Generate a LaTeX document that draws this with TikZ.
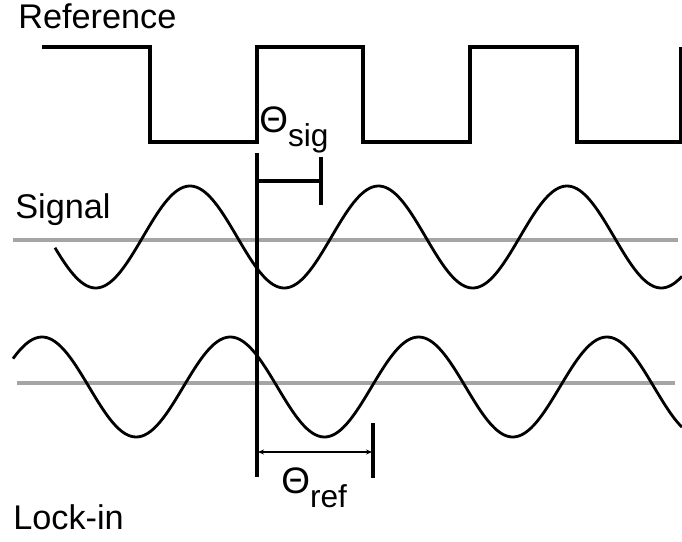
\documentclass[tikz,border=0pt]{standalone}
\usepackage{fontspec}
\setmainfont{Liberation Sans}
\usepackage{xcolor}
\usepackage{tikz}
\usetikzlibrary{arrows.meta,positioning}
\definecolor{axisgray}{RGB}{165,165,165}

\begin{document}
\begin{tikzpicture}[
  x=0.02cm,y=-0.02cm,
  lbl/.style={anchor=base west,inner sep=0pt,font=\fontsize{19.5}{21}\selectfont},
  theta/.style={anchor=base west,inner sep=0pt,font=\fontsize{21}{22}\selectfont},
  square/.style={line width=2.6pt},
  wave/.style={line width=1.6pt,smooth,samples=240},
  axis/.style={line width=2.8pt,axisgray},
  marker/.style={line width=2.2pt},
  span/.style={{Stealth[length=1.2mm,width=1mm]}-{Stealth[length=1.2mm,width=1mm]},line width=0.6pt}
]
\useasboundingbox (0,0) rectangle (682,541);
\node[lbl] (ref) at (18,29) {Reference};
\node[lbl] (sig) at (15,218) {Signal};
\node[lbl] (lockin) at (13,529) {Lock-in};
\draw[square] (42,47) -- (150,47) -- (150,142) -- (257,142) -- (257,47) -- (363,47)
  -- (363,142) -- (470,142) -- (470,47) -- (577,47) -- (577,142) -- (681,142) -- (681,47);
\draw[axis] (13,240) -- (678,240);
\draw[axis] (17,383) -- (675,383);
\draw[wave] plot[domain=55:682] (\x,{237-51*cos(1.90981*(\x-190))});
\draw[wave] plot[domain=13:682] (\x,{387-50*cos(1.91184*(\x-42))});
\coordinate (zeroTop) at (257,153);
\coordinate (zeroBot) at (257,477);
\draw[marker] (zeroTop) -- (zeroBot);
\coordinate (sigL) at (258,181);
\coordinate (sigR) at (320,181);
\coordinate (sigTickA) at (321,157);
\coordinate (sigTickB) at (321,205);
\draw[line width=2.6pt] (sigL) -- (sigR);
\draw[marker] (sigTickA) -- (sigTickB);
\coordinate (refL) at (258,452);
\coordinate (refR) at (372,452);
\coordinate (refTickA) at (373,423);
\coordinate (refTickB) at (373,478);
\draw[span] (refL) -- (refR);
\draw[marker] (refTickA) -- (refTickB);
\node[theta] (thsig) at (259,132) {Θ\raisebox{-8pt}{\fontsize{18}{19}\selectfont sig}};
\node[theta] (thref) at (281,493) {Θ\raisebox{-8pt}{\fontsize{18}{19}\selectfont ref}};
\end{tikzpicture}
\end{document}
